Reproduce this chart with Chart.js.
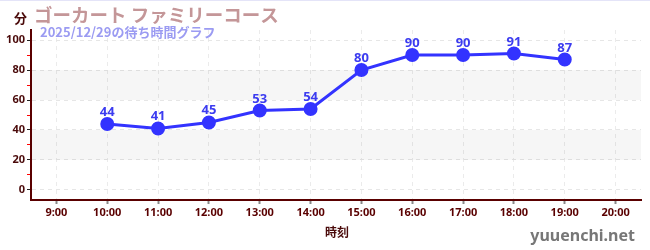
<!DOCTYPE html>
<html><head><meta charset="utf-8">
<script src="https://cdn.jsdelivr.net/npm/chart.js@4"></script>
<style>html,body{margin:0;padding:0;background:#fff;}#wrap{width:650px;height:250px;position:relative;border-top:1px solid #e4e4f8;box-sizing:border-box;}</style>
</head><body><div id="wrap"><canvas id="c"></canvas></div>
<script>
const categories = ['9:00','10:00','11:00','12:00','13:00','14:00','15:00','16:00','17:00','18:00','19:00','20:00'];
const waitTimes = [null,44,41,45,53,54,80,90,90,91,87,null];
const yTickValues = [0,10,20,30,40,50,60,70,80,90,100];
const bands = [[20,40],[60,80]];
const titleText = 'ゴーカート ファミリーコース';
const subtitleText = '2025/12/29の待ち時間グラフ';
const yUnit = '分';
const xTitle = '時刻';
const watermark = 'yuuenchi.net';

const JP = '"Noto Sans CJK JP","Noto Sans",sans-serif';
const axisColor = '#5a0000';

const decor = {
  id:'decor',
  beforeDatasetsDraw(chart){
    const {ctx, chartArea:a, scales:{y}} = chart;
    ctx.save();
    ctx.fillStyle = 'rgba(0,0,0,0.035)';
    bands.forEach(([lo,hi])=>{
      const t = y.getPixelForValue(hi), b = y.getPixelForValue(lo);
      ctx.fillRect(a.left, t, a.right-a.left, b-t);
    });
    ctx.restore();
  },
  afterDraw(chart){
    const {ctx} = chart;
    ctx.save();
    ctx.textBaseline = 'alphabetic';
    ctx.fillStyle = '#4a0a0a';
    ctx.font = 'bold 13px '+JP;
    ctx.fillText(yUnit, 14, 22);
    ctx.fillStyle = '#c49698';
    ctx.font = 'bold 18.5px '+JP;
    ctx.fillText(titleText, 34, 21);
    ctx.fillStyle = '#9b9bf2';
    ctx.font = 'bold 13px '+JP;
    ctx.fillText(subtitleText, 40, 36);
    ctx.fillStyle = '#4a0a0a';
    ctx.font = 'bold 12px '+JP;
    ctx.textAlign = 'center';
    ctx.fillText(xTitle, 337, 236);
    ctx.fillStyle = '#777';
    ctx.font = 'bold 16px "Noto Sans",sans-serif';
    ctx.textAlign = 'right';
    ctx.fillText(watermark, 635, 240);
    const meta = chart.getDatasetMeta(0);
    ctx.fillStyle = '#3c3cf0';
    ctx.font = 'bold 13px "Noto Sans",sans-serif';
    ctx.textAlign = 'center';
    meta.data.forEach((p,i)=>{
      const v = waitTimes[i];
      if (v==null) return;
      ctx.fillText(String(v), p.x, p.y-8);
    });
    ctx.restore();
  }
};

new Chart(document.getElementById('c'), {
  type:'line',
  data:{labels:categories, datasets:[{
    data:waitTimes, borderColor:'#3333ff', backgroundColor:'#3333ff',
    borderWidth:3, pointRadius:5.5, pointHoverRadius:5.5, tension:0, spanGaps:false
  }]},
  options:{
    responsive:true, maintainAspectRatio:false, animation:false,
    layout:{padding:{top:29,right:9,left:0,bottom:0}},
    plugins:{legend:{display:false}, tooltip:{enabled:false}},
    scales:{
      x:{
        offset:true,
        grid:{display:true, color:'#ebebeb', drawTicks:true, tickLength:4, tickColor:'#888', tickWidth:2, tickBorderDash:[], offset:false},
        border:{color:axisColor, width:2, dash:[4,4]},
        ticks:{color:axisColor, font:{family:'"Noto Sans",sans-serif', weight:'bold', size:11}, padding:2, maxRotation:0, autoSkip:false},
        afterFit(s){ s.height = 50; }
      },
      y:{
        min:-6.7, max:106.7,
        afterBuildTicks(s){ s.ticks = yTickValues.map(v=>({value:v})); },
        grid:{
          color:(c)=> (c.tick && c.tick.value%20===0) ? '#e6e6e6' : 'rgba(0,0,0,0)',
          tickColor:(c)=> (c.tick && c.tick.value%20===0) ? '#222' : '#ff0000',
          tickLength:4, tickWidth:1, tickBorderDash:[]
        },
        border:{color:axisColor, width:2, dash:[4,4]},
        ticks:{
          color:'#4a0a0a', padding:2,
          font:{family:'"Noto Sans",sans-serif', weight:'bold', size:11},
          callback:(v)=> v%20===0 ? String(v) : ''
        },
        afterFit(s){ s.width = 31; }
      }
    }
  },
  plugins:[decor]
});
</script></body></html>
